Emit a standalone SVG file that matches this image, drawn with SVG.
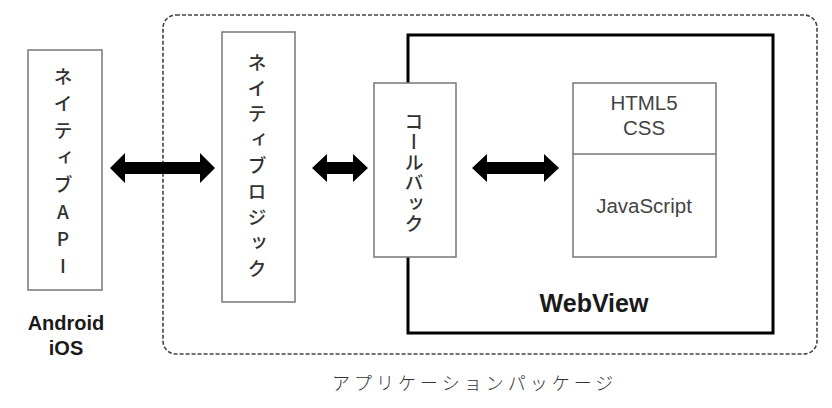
<svg xmlns="http://www.w3.org/2000/svg" width="832" height="408" viewBox="0 0 832 408">
<style>
.box{fill:#fff;stroke:#777;stroke-width:1.5}
.vt{font-family:"Noto Sans CJK JP",sans-serif;font-size:19px;font-weight:500;fill:#333;writing-mode:vertical-rl;text-orientation:upright}
.lt{font-family:"Liberation Sans",Arial,sans-serif;font-size:20.5px;fill:#444;text-anchor:middle}
.bt{font-family:"Liberation Sans",Arial,sans-serif;font-weight:bold;fill:#1a1a1a;text-anchor:middle}
.arr{fill:#000}
</style>
<rect width="832" height="408" fill="#fff"/>
<g id="app-package">
<rect x="163" y="15" width="654" height="339" rx="13" fill="none" stroke="#444" stroke-width="1.6" stroke-dasharray="4 2"/>
<text x="332" y="390" style="font-family:'Noto Sans CJK JP',sans-serif;font-size:18px;fill:#333;letter-spacing:4px;font-weight:300">アプリケーションパッケージ</text>
</g>
<g id="webview">
<rect x="408" y="35" width="365" height="298" fill="#fff" stroke="#000" stroke-width="3"/>
<text class="bt" x="594" y="312" font-size="25">WebView</text>
</g>
<g id="native-api">
<rect class="box" x="28" y="50" width="74" height="240"/>
<text class="vt" x="63" y="67" style="letter-spacing:8px">ネイティブAPI</text>
<text class="bt" x="66" y="330" font-size="20">Android</text>
<text class="bt" x="66" y="355" font-size="20">iOS</text>
</g>
<g id="native-logic">
<rect class="box" x="222" y="32" width="73" height="270"/>
<text class="vt" x="257" y="53" style="letter-spacing:6.8px">ネイティブロジック</text>
</g>
<g id="callback">
<rect class="box" x="374" y="83" width="82" height="174"/>
<text class="vt" x="414" y="112" style="letter-spacing:1.5px">コールバック</text>
</g>
<g id="web-content">
<rect class="box" x="573" y="83" width="143" height="174"/>
<line x1="573" y1="154" x2="716" y2="154" stroke="#777" stroke-width="1.5"/>
<text class="lt" x="644" y="110">HTML5</text>
<text class="lt" x="644" y="135">CSS</text>
<text class="lt" x="644" y="213">JavaScript</text>
</g>
<g id="connectors">
<polygon class="arr" points="110,168 125,153 125,162 200,162 200,153 215,168 200,183 200,174 125,174 125,183"/>
<polygon class="arr" points="312,168 327,154 327,162 353,162 353,154 368,168 353,182 353,174 327,174 327,182"/>
<polygon class="arr" points="472,168 487,154 487,162 544,162 544,154 559,168 544,182 544,174 487,174 487,182"/>
</g>
</svg>
